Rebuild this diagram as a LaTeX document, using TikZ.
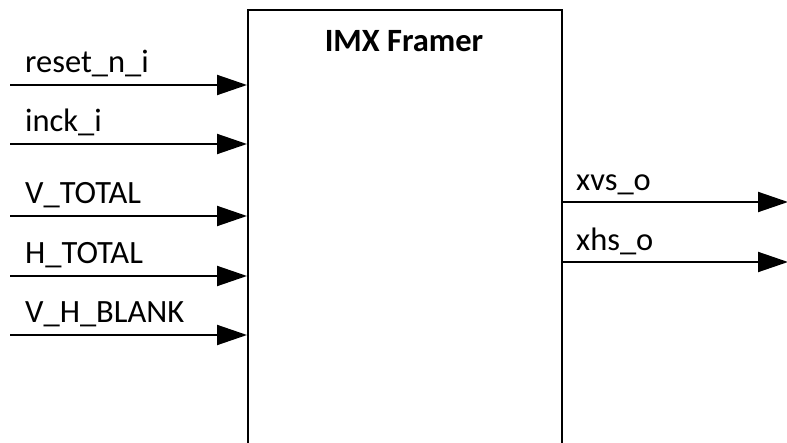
\documentclass[tikz,border=0pt]{standalone}
\usepackage{fontspec}
\setmainfont{Carlito}
\usetikzlibrary{arrows.meta}
\begin{document}
\begin{tikzpicture}[x=1pt,y=1pt,
  sig/.style={line width=2pt,-{Triangle[length=30pt,width=20pt]}},
  lbl/.style={anchor=base west,inner sep=0pt,font=\fontsize{32.5}{32.5}\selectfont},
  blk/.style={draw,line width=2pt,minimum width=314pt,minimum height=460pt,anchor=north west,inner sep=0pt}]
\useasboundingbox (0,0) rectangle (787,442);
\node[blk] (framer) at (247,433) {};
\node[anchor=base,inner sep=0pt,font=\fontsize{32.5}{32.5}\selectfont\bfseries] (title) at (404,390) {IMX Framer};
% inputs
\coordinate (i1) at (10,357);
\coordinate (i2) at (10,298);
\coordinate (i3) at (10,226);
\coordinate (i4) at (10,166);
\coordinate (i5) at (10,107);
\draw[sig] (i1) -- (i1 -| framer.west);
\draw[sig] (i2) -- (i2 -| framer.west);
\draw[sig] (i3) -- (i3 -| framer.west);
\draw[sig] (i4) -- (i4 -| framer.west);
\draw[sig] (i5) -- (i5 -| framer.west);
\node[lbl] (l1) at (25,369) {reset\_n\_i};
\node[lbl] (l2) at (25,310) {inck\_i};
\node[lbl] (l3) at (25,238) {V\_TOTAL};
\node[lbl] (l4) at (25,178) {H\_TOTAL};
\node[lbl] (l5) at (25,119) {V\_H\_BLANK};
% outputs
\coordinate (o1) at (788,240);
\coordinate (o2) at (788,180);
\draw[sig] (o1 -| framer.east) -- (o1);
\draw[sig] (o2 -| framer.east) -- (o2);
\node[lbl] (m1) at (576,251) {xvs\_o};
\node[lbl] (m2) at (576,191) {xhs\_o};
\end{tikzpicture}
\end{document}
